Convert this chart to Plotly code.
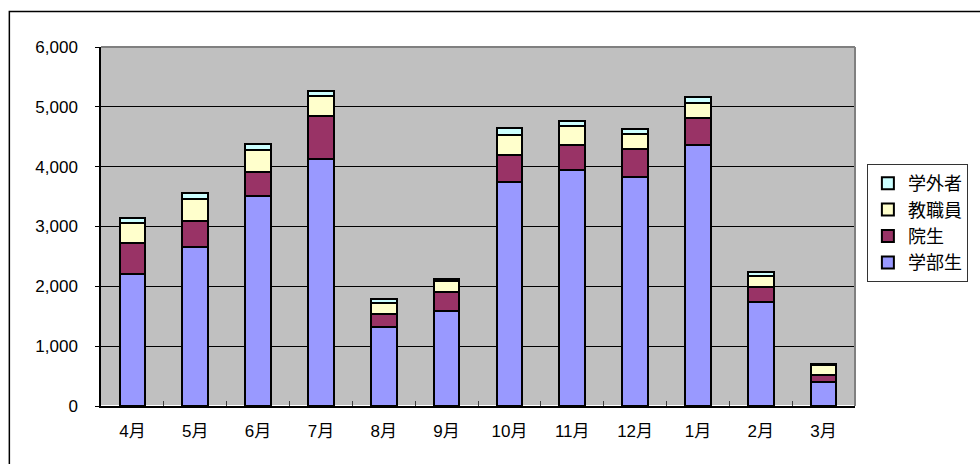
import plotly.graph_objects as go

months = ["4月", "5月", "6月", "7月", "8月", "9月", "10月", "11月", "12月", "1月", "2月", "3月"]
undergrad = [2213, 2654, 3512, 4130, 1327, 1589, 3741, 3941, 3835, 4370, 1744, 401]
graduate = [508, 445, 396, 719, 206, 323, 462, 424, 458, 446, 251, 123]
staff = [334, 363, 368, 330, 184, 184, 329, 317, 250, 241, 184, 167]
outside = [84, 100, 100, 94, 77, 22, 106, 78, 83, 100, 57, 11]

series_names = ["学部生", "院生", "教職員", "学外者"]
series_values = [undergrad, graduate, staff, outside]
series_colors = ["#9999FF", "#993366", "#FFFFCC", "#CCFFFF"]

FONT = "Liberation Sans, Arial, Noto Sans CJK JP, sans-serif"

fig = go.Figure()
for name, vals, col in zip(series_names, series_values, series_colors):
    fig.add_trace(go.Bar(
        x=months, y=vals, name=name, legendgroup=name,
        marker=dict(color=col, line=dict(color="black", width=2)),
    ))

W, H = 980, 464
L, R, T, B = 101, 118, 47, 58
pw, ph = W - L - R, H - T - B

def px_x(p):
    return (p - L) / pw

def px_y(p):
    return (H - B - p) / ph

fig.update_layout(
    width=W, height=H,
    margin=dict(l=L, r=R, t=T, b=B, pad=0),
    barmode="stack", bargap=0.59,
    paper_bgcolor="white", plot_bgcolor="#C0C0C0",
    font=dict(family=FONT, size=17, color="black"),
    showlegend=True,
    legend=dict(
        traceorder="reversed", tracegroupgap=5,
        x=px_x(874), xanchor="left", y=px_y(164), yanchor="top",
        bgcolor="white", bordercolor="#333333", borderwidth=1,
        font=dict(family="Noto Sans CJK JP, sans-serif", size=18, color="black"),
    ),
    xaxis=dict(
        type="category", showgrid=False, showline=True, linecolor="black", linewidth=1.5,
        ticks="inside", tickson="boundaries", ticklen=5, tickcolor="#404040",
        tickfont=dict(family=FONT, size=17), ticklabelstandoff=9,
    ),
    yaxis=dict(
        range=[0, 6000], dtick=1000, tickformat=",d",
        showgrid=True, gridcolor="black", gridwidth=1,
        showline=True, linecolor="black", linewidth=1.5,
        ticks="outside", ticklen=4, tickcolor="black",
        tickfont=dict(family=FONT, size=17), ticklabelstandoff=14,
    ),
    shapes=[
        dict(type="line", xref="paper", yref="paper", x0=0, x1=1, y0=1, y1=1,
             line=dict(color="#808080", width=2), layer="above"),
        dict(type="line", xref="paper", yref="paper", x0=1, x1=1, y0=0, y1=1,
             line=dict(color="#808080", width=2), layer="above"),
        dict(type="rect", xref="paper", yref="paper",
             x0=px_x(8.5), x1=px_x(990), y0=px_y(11.5), y1=px_y(480),
             line=dict(color="black", width=1.5), layer="above"),
    ],
)

fig.write_html("out.html")
